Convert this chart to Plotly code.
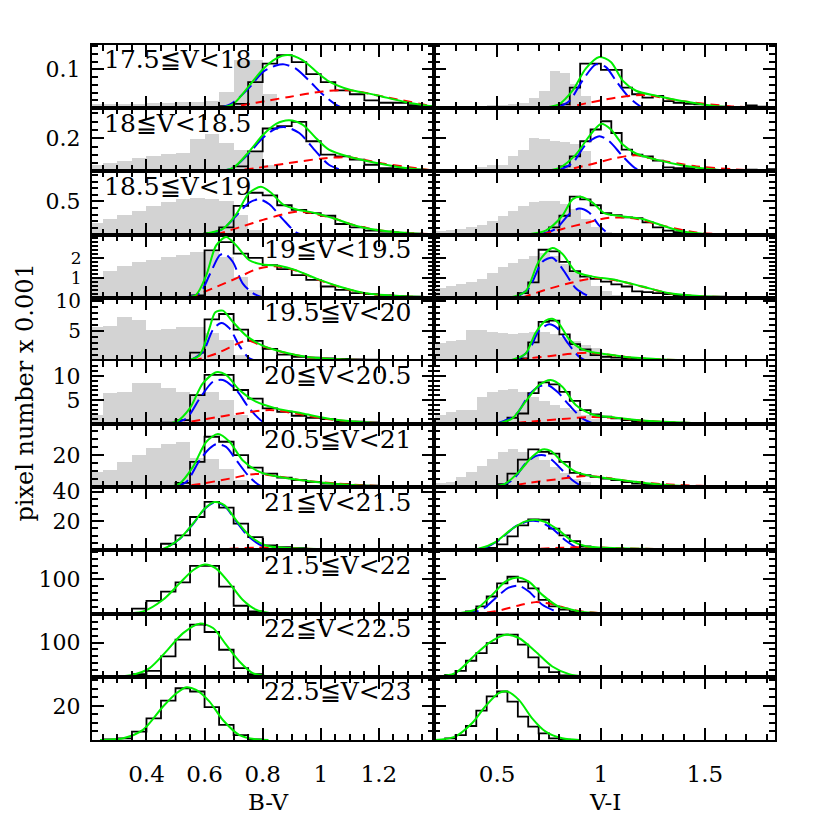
import plotly.graph_objects as go
from plotly.subplots import make_subplots

BIN_W = 0.05
GREY_START = 0.20
ROW_LABELS = ["17.5≦V<18", "18≦V<18.5", "18.5≦V<19", "19≦V<19.5", "19.5≦V<20",
              "20≦V<20.5", "20.5≦V<21", "21≦V<21.5", "21.5≦V<22", "22≦V<22.5", "22.5≦V<23"]
Y_MAX = [0.163, 0.382, 0.955, 3.2, 10.5, 13.1, 39.4, 43, 185, 185, 37]
Y_TICKS = [[0.1], [0.2], [0.5], [1, 2], [5, 10], [5, 10], [20], [20, 40], [100], [100], [20]]
Y_MINOR = [0.02, 0.05, 0.1, 0.2, 1, 1, 5, 5, 20, 20, 5]
BV_TICKS = [0.4, 0.6, 0.8, 1.0, 1.2]
BV_TEXT = ["0.4", "0.6", "0.8", "1", "1.2"]
VI_TICKS = [0.5, 1.0, 1.5]
VI_TEXT = ["0.5", "1", "1.5"]
BV_RANGE = [0.2125, 1.388]
VI_RANGE = [0.194, 1.838]
X_TITLES = ["B-V", "V-I"]
Y_TITLE = "pixel number x 0.001"

# ---------------- row 1 ----------------
BV1_GREY = [0.010, 0.010, 0.010, 0.010, 0.013, 0.013, 0.017, 0.017, 0.018, 0.042, 0.125, 0.125, 0.036]
BV1_BLACK_START = 0.65
BV1_BLACK = [0.005, 0.011, 0.067, 0.115, 0.137, 0.119, 0.088, 0.067, 0.046, 0.036, 0.020, 0.014, 0.014, 0.008, 0.005]
BV1_BLUE = [(0.651, 0.0), (0.697, 0.014), (0.754, 0.053), (0.80, 0.093), (0.846, 0.110), (0.874, 0.113),
            (0.914, 0.102), (0.96, 0.071), (1.006, 0.036), (1.05, 0.010), (1.074, 0.001)]
BV1_RED = [(0.674, 0.0), (0.777, 0.014), (0.891, 0.029), (1.006, 0.043), (1.097, 0.046), (1.234, 0.027), (1.39, 0.004)]
BV1_GREEN = [(0.64, 0.0), (0.697, 0.010), (0.754, 0.058), (0.80, 0.100), (0.846, 0.128), (0.886, 0.137),
             (0.937, 0.124), (0.994, 0.088), (1.028, 0.069), (1.097, 0.048), (1.188, 0.034), (1.291, 0.016), (1.394, 0.003)]

VI1_GREY = [0.005, 0.005, 0.005, 0.005, 0.005, 0.007, 0.007, 0.010, 0.014, 0.027, 0.045, 0.095, 0.090, 0.062, 0.032]
VI1_BLACK_START = 0.80
VI1_BLACK = [0.010, 0.053, 0.115, 0.115, 0.099, 0.099, 0.053, 0.036, 0.027, 0.032, 0.018, 0.014, 0.011, 0.010,
             0.004, 0.004, 0.002, 0.002, 0.007, 0.004, 0.002]
VI1_BLUE = [(0.782, 0.0), (0.847, 0.018), (0.911, 0.071), (0.976, 0.113), (1.024, 0.106), (1.072, 0.071),
            (1.137, 0.027), (1.193, 0.003)]
VI1_RED = [(0.814, 0.0), (0.943, 0.014), (1.072, 0.027), (1.20, 0.034), (1.395, 0.018), (1.621, 0.005), (1.84, 0.001)]
VI1_GREEN = [(0.70, 0.0), (0.798, 0.010), (0.863, 0.045), (0.927, 0.102), (0.992, 0.132), (1.048, 0.119),
             (1.105, 0.071), (1.169, 0.045), (1.266, 0.032), (1.395, 0.018), (1.556, 0.005), (1.84, 0.0)]

# ---------------- row 2 ----------------
BV2_GREY = [0.036, 0.050, 0.061, 0.077, 0.091, 0.101, 0.111, 0.192, 0.222, 0.172, 0.131, 0.121, 0.036]
BV2_BLACK_START = 0.70
BV2_BLACK = [0.030, 0.121, 0.259, 0.273, 0.299, 0.182, 0.101, 0.091, 0.071, 0.040, 0.020, 0.016, 0.010, 0.006]
BV2_BLUE = [(0.64, 0.0), (0.697, 0.020), (0.754, 0.111), (0.80, 0.202), (0.846, 0.259), (0.88, 0.267),
            (0.926, 0.232), (0.983, 0.121), (1.028, 0.040), (1.086, 0.0)]
BV2_RED = [(0.686, 0.0), (0.777, 0.020), (0.891, 0.050), (1.006, 0.078), (1.097, 0.085), (1.211, 0.048), (1.39, 0.004)]
BV2_GREEN = [(0.628, 0.0), (0.697, 0.020), (0.754, 0.121), (0.80, 0.218), (0.846, 0.287), (0.891, 0.309),
             (0.937, 0.283), (0.983, 0.202), (1.028, 0.131), (1.097, 0.088), (1.188, 0.052), (1.291, 0.020), (1.394, 0.004)]

VI2_GREY = [0.008, 0.008, 0.010, 0.012, 0.024, 0.036, 0.040, 0.091, 0.131, 0.202, 0.192, 0.182, 0.176, 0.162, 0.121, 0.010]
VI2_BLACK_START = 0.80
VI2_BLACK = [0.030, 0.091, 0.182, 0.253, 0.303, 0.232, 0.131, 0.101, 0.091, 0.065, 0.024, 0.020, 0.020, 0.010,
             0.010, 0.004, 0.004, 0.006, 0.010, 0.004, 0.014]
VI2_BLUE = [(0.782, 0.0), (0.863, 0.050), (0.927, 0.162), (0.992, 0.212), (1.04, 0.182), (1.105, 0.091),
            (1.169, 0.016), (1.218, 0.0)]
VI2_RED = [(0.798, 0.0), (0.943, 0.040), (1.072, 0.081), (1.169, 0.097), (1.266, 0.071), (1.46, 0.030), (1.70, 0.008), (1.84, 0.002)]
VI2_GREEN = [(0.685, 0.0), (0.798, 0.020), (0.879, 0.101), (0.943, 0.212), (1.0, 0.287), (1.048, 0.253),
             (1.105, 0.162), (1.169, 0.108), (1.266, 0.071), (1.395, 0.036), (1.556, 0.010), (1.84, 0.0)]

# ---------------- row 3 ----------------
BV3_GREY = [0.174, 0.234, 0.293, 0.358, 0.433, 0.492, 0.532, 0.547, 0.532, 0.507, 0.284, 0.060]
BV3_BLACK_START = 0.60
BV3_BLACK = [0.020, 0.109, 0.433, 0.632, 0.592, 0.443, 0.373, 0.323, 0.284, 0.159, 0.109, 0.060, 0.045, 0.025, 0.015, 0.010]
BV3_BLUE = [(0.606, 0.0), (0.663, 0.085), (0.709, 0.284), (0.754, 0.482), (0.789, 0.532), (0.823, 0.458),
            (0.869, 0.234), (0.914, 0.035), (0.94, 0.0)]
BV3_RED = [(0.64, 0.0), (0.72, 0.109), (0.811, 0.234), (0.914, 0.345), (0.96, 0.33), (1.052, 0.234),
           (1.12, 0.134), (1.234, 0.045), (1.39, 0.005)]
BV3_GREEN = [(0.583, 0.0), (0.663, 0.085), (0.709, 0.308), (0.754, 0.632), (0.794, 0.721), (0.829, 0.632),
             (0.869, 0.458), (0.914, 0.383), (0.983, 0.323), (1.052, 0.234), (1.12, 0.134), (1.234, 0.045), (1.348, 0.010)]

VI3_GREY = [0.045, 0.060, 0.075, 0.104, 0.144, 0.194, 0.274, 0.343, 0.433, 0.492, 0.507, 0.507, 0.458, 0.383,
            0.234, 0.109, 0.035]
VI3_BLACK_START = 0.75
VI3_BLACK = [0.109, 0.284, 0.572, 0.532, 0.443, 0.323, 0.293, 0.259, 0.249, 0.184, 0.109, 0.060, 0.035, 0.020,
             0.010, 0.010, 0.005, 0.005, 0.005, 0.005, 0.005]
VI3_BLUE = [(0.70, 0.0), (0.782, 0.085), (0.847, 0.308), (0.895, 0.393), (0.943, 0.333), (0.992, 0.134), (1.04, 0.0)]
VI3_RED = [(0.718, 0.0), (0.814, 0.085), (0.927, 0.174), (1.04, 0.255), (1.169, 0.240), (1.298, 0.134),
           (1.46, 0.030), (1.62, 0.0)]
VI3_GREEN = [(0.62, 0.0), (0.734, 0.060), (0.814, 0.284), (0.863, 0.532), (0.903, 0.572), (0.96, 0.482),
             (1.016, 0.323), (1.105, 0.274), (1.20, 0.234), (1.298, 0.134), (1.395, 0.045), (1.54, 0.0)]

# ---------------- row 4 ----------------
BV4_GREY = [0.98, 1.40, 1.65, 1.85, 1.95, 2.07, 2.18, 2.32, 2.35, 2.07, 1.07, 0.40, 0.07]
BV4_BLACK_START = 0.55
BV4_BLACK = [0.12, 2.40, 2.82, 2.23, 2.02, 1.65, 1.45, 1.15, 0.90, 0.57, 0.40, 0.23, 0.18, 0.12, 0.08, 0.05, 0.03]
BV4_BLUE = [(0.526, 0.0), (0.583, 0.23), (0.617, 1.15), (0.652, 2.15), (0.669, 2.23), (0.697, 1.82),
            (0.731, 0.73), (0.766, 0.23), (0.80, 0.0)]
BV4_RED = [(0.549, 0.0), (0.629, 0.48), (0.709, 0.98), (0.78, 1.45), (0.84, 1.60), (0.914, 1.38),
           (0.983, 0.96), (1.063, 0.55), (1.154, 0.22), (1.291, 0.06), (1.39, 0.02)]
BV4_GREEN = [(0.526, 0.0), (0.571, 0.15), (0.606, 1.15), (0.64, 2.65), (0.674, 3.07), (0.709, 2.65),
             (0.754, 1.90), (0.80, 1.68), (0.857, 1.62), (0.914, 1.40), (0.983, 0.98), (1.063, 0.57),
             (1.154, 0.23), (1.291, 0.07), (1.394, 0.02)]

VI4_GREY = [0.52, 0.62, 0.73, 0.82, 0.98, 1.28, 1.57, 1.78, 1.98, 2.15, 2.28, 2.15, 1.73, 1.32, 0.90, 0.62, 0.35, 0.18]
VI4_BLACK_START = 0.60
VI4_BLACK = [0.23, 0.78, 2.43, 2.35, 1.82, 1.35, 1.07, 0.95, 0.82, 0.68, 0.57, 0.32, 0.28, 0.23, 0.18, 0.12,
             0.08, 0.05, 0.05, 0.05, 0.03, 0.03, 0.02, 0.02, 0.02]
VI4_BLUE = [(0.589, 0.0), (0.653, 0.48), (0.718, 1.82), (0.766, 2.02), (0.814, 1.48), (0.879, 0.48),
            (0.943, 0.07), (0.97, 0.0)]
VI4_RED = [(0.62, 0.0), (0.734, 0.40), (0.847, 0.73), (0.976, 1.0), (1.072, 0.88), (1.2, 0.56),
           (1.33, 0.22), (1.492, 0.07), (1.84, 0.0)]
VI4_GREEN = [(0.556, 0.0), (0.637, 0.32), (0.70, 1.82), (0.766, 2.52), (0.814, 2.23), (0.879, 1.32),
             (0.96, 1.07), (1.072, 0.90), (1.2, 0.57), (1.33, 0.23), (1.492, 0.08), (1.75, 0.02)]

# ---------------- row 5 ----------------
BV5_GREY = [5.6, 5.8, 7.3, 6.9, 5.2, 5.3, 5.6, 5.7, 4.7, 3.5, 0.95, 0.42]
BV5_BLACK_START = 0.55
BV5_BLACK = [1.38, 6.9, 7.8, 5.2, 3.33, 2.0, 1.06, 0.69, 0.53, 0.42, 0.32, 0.26, 0.21, 0.16, 0.1, 0.1, 0.05]
BV5_BLUE = [(0.548, 0.0), (0.594, 1.48), (0.629, 5.2), (0.657, 6.3), (0.686, 5.4), (0.72, 2.5),
            (0.754, 0.42), (0.78, 0.0)]
BV5_RED = [(0.56, 0.0), (0.64, 1.2), (0.72, 3.0), (0.75, 3.4), (0.80, 2.45), (0.869, 1.45), (0.949, 0.67),
           (1.063, 0.25), (1.234, 0.05)]
BV5_GREEN = [(0.537, 0.0), (0.583, 0.95), (0.617, 5.45), (0.637, 8.1), (0.663, 8.35), (0.697, 6.5),
             (0.743, 4.2), (0.80, 2.54), (0.869, 1.48), (0.949, 0.69), (1.063, 0.26), (1.234, 0.05), (1.39, 0.0)]

VI5_GREY = [2.96, 3.33, 3.6, 5.2, 5.1, 4.9, 4.65, 4.55, 4.65, 4.9, 4.9, 4.55, 4.0, 3.33, 2.65, 2.27, 0.69]
VI5_BLACK_START = 0.60
VI5_BLACK = [0.42, 3.07, 6.5, 6.7, 4.4, 2.8, 1.9, 0.95, 0.69, 0.53, 0.42, 0.32, 0.21, 0.16, 0.1, 0.1, 0.1, 0.1]
VI5_BLUE = [(0.589, 0.0), (0.653, 1.75), (0.70, 4.9), (0.75, 6.1), (0.79, 5.45), (0.838, 3.07),
            (0.895, 0.69), (0.93, 0.0)]
VI5_RED = [(0.60, 0.0), (0.653, 0.42), (0.75, 0.79), (0.863, 1.2), (0.943, 1.35), (1.008, 1.15),
           (1.137, 0.58), (1.298, 0.23), (1.6, 0.04)]
VI5_GREEN = [(0.556, 0.0), (0.637, 1.2), (0.685, 4.65), (0.734, 6.7), (0.766, 7.0), (0.798, 6.2),
             (0.847, 3.6), (0.911, 1.9), (0.96, 1.45), (1.008, 1.2), (1.137, 0.6), (1.298, 0.25), (1.54, 0.05), (1.84, 0.0)]

# ---------------- row 6 ----------------
BV6_GREY = [1.87, 6.4, 6.6, 8.45, 8.45, 7.55, 6.7, 6.2, 6.7, 5.0, 1.87, 0.49]
BV6_BLACK_START = 0.45
BV6_BLACK = [0.28, 0.83, 6.0, 10.2, 10.2, 7.07, 5.3, 3.26, 2.56, 1.73, 1.32, 1.04, 0.62, 0.49, 0.35, 0.21, 0.14, 0.07, 0.07]
BV6_BLUE = [(0.48, 0.0), (0.537, 1.18), (0.583, 5.3), (0.629, 8.8), (0.663, 9.15), (0.709, 7.07),
            (0.754, 3.26), (0.80, 0.49), (0.823, 0.0)]
BV6_RED = [(0.503, 0.0), (0.606, 1.04), (0.72, 2.2), (0.823, 2.9), (0.914, 2.2), (1.028, 1.0),
           (1.177, 0.28), (1.39, 0.05)]
BV6_GREEN = [(0.445, 0.0), (0.503, 0.49), (0.549, 3.26), (0.594, 8.45), (0.64, 10.74), (0.674, 10.2),
             (0.72, 7.07), (0.777, 4.64), (0.846, 3.26), (0.937, 2.2), (1.052, 0.9), (1.177, 0.3), (1.39, 0.05)]

VI6_GREY = [2.0, 2.56, 2.9, 2.9, 5.7, 6.7, 7.07, 7.2, 6.7, 5.7, 4.8, 3.95, 3.26, 2.9, 1.87, 1.04, 0.49, 0.14]
VI6_BLACK_START = 0.50
VI6_BLACK = [0.14, 1.32, 2.2, 6.4, 8.66, 8.25, 6.7, 4.8, 2.9, 2.0, 1.52, 1.18, 0.83, 0.62, 0.49, 0.35, 0.28,
             0.21, 0.14, 0.14, 0.14, 0.14]
VI6_BLUE = [(0.492, 0.0), (0.589, 1.87), (0.653, 6.0), (0.70, 7.76), (0.742, 8.1), (0.79, 6.7),
            (0.847, 3.95), (0.911, 1.18), (0.97, 0.0)]
VI6_RED = [(0.524, 0.0), (0.653, 0.49), (0.814, 1.04), (0.943, 1.45), (1.04, 1.35), (1.2, 0.7),
           (1.46, 0.2), (1.84, 0.0)]
VI6_GREEN = [(0.49, 0.0), (0.573, 1.18), (0.637, 4.64), (0.70, 7.97), (0.758, 9.15), (0.814, 7.76),
             (0.879, 3.95), (0.96, 2.0), (1.072, 1.32), (1.234, 0.62), (1.46, 0.2), (1.84, 0.0)]

# ---------------- row 7 ----------------
BV7_GREY = [9.6, 10.6, 15.8, 20.0, 24.2, 26.9, 28.4, 17.9, 17.3, 11.1, 4.4, 1.25]
BV7_BLACK_START = 0.45
BV7_BLACK = [0.6, 2.7, 15.8, 31.5, 28.4, 20.0, 12.3, 8.55, 6.05, 4.4, 3.3, 2.3, 1.9, 1.46, 1.0, 0.8, 0.6, 0.4, 0.4]
BV7_BLUE = [(0.491, 0.0), (0.537, 3.3), (0.583, 16.9), (0.617, 24.2), (0.64, 26.9), (0.674, 25.2),
            (0.709, 16.9), (0.754, 6.5), (0.789, 1.25), (0.81, 0.0)]
BV7_RED = [(0.503, 0.0), (0.594, 2.3), (0.686, 5.4), (0.777, 8.3), (0.846, 7.0), (0.937, 4.3),
           (1.063, 2.2), (1.234, 0.6), (1.39, 0.2)]
BV7_GREEN = [(0.468, 0.0), (0.514, 2.3), (0.56, 12.7), (0.606, 28.4), (0.646, 33.2), (0.686, 28.4),
             (0.731, 16.9), (0.789, 9.6), (0.869, 6.05), (0.983, 3.3), (1.12, 1.25), (1.291, 0.42), (1.39, 0.2)]

VI7_GREY = [2.3, 3.3, 6.05, 9.6, 13.3, 17.3, 22.1, 23.6, 22.1, 19.0, 16.9, 12.7, 8.55, 5.4, 3.3, 1.25]
VI7_BLACK_START = 0.45
VI7_BLACK = [0.2, 1.9, 8.55, 17.3, 23.6, 22.1, 21.0, 15.8, 9.0, 7.5, 6.5, 5.4, 4.4, 3.3, 2.3, 1.9, 1.5, 1.0,
             0.8, 0.6, 0.4, 0.4, 0.4]
VI7_BLUE = [(0.492, 0.0), (0.573, 4.4), (0.637, 14.8), (0.685, 19.4), (0.726, 20.0), (0.766, 16.9),
            (0.814, 10.6), (0.863, 4.4), (0.911, 0.6), (0.94, 0.0)]
VI7_RED = [(0.524, 0.0), (0.653, 2.7), (0.814, 5.4), (0.927, 7.0), (1.008, 6.2), (1.137, 3.8),
           (1.33, 1.7), (1.62, 0.4), (1.84, 0.1)]
VI7_GREEN = [(0.46, 0.0), (0.54, 2.3), (0.605, 9.6), (0.669, 19.0), (0.718, 23.6), (0.758, 22.7),
             (0.814, 15.8), (0.879, 9.6), (0.976, 6.5), (1.105, 4.4), (1.266, 1.9), (1.46, 0.6), (1.84, 0.05)]

# ---------------- row 8 ----------------
BV8_BLACK_START = 0.30
BV8_BLACK = [0.45, 0.45, 1.1, 4.55, 10.2, 22.75, 33.0, 29.1, 18.2, 9.1, 3.4, 2.3, 1.6, 1.1, 0.9, 0.7,
             0.45, 0.45, 0.45, 0.3, 0.3]
BV8_BLUE = [(0.40, 0.0), (0.457, 1.0), (0.514, 7.8), (0.56, 18.0), (0.60, 28.2), (0.634, 32.6),
            (0.669, 30.2), (0.709, 19.8), (0.754, 9.0), (0.811, 1.8), (0.85, 0.0)]
BV8_RED = [(0.583, 0.0), (0.686, 1.1), (0.777, 1.9), (0.846, 1.8), (0.949, 1.1), (1.1, 0.4), (1.3, 0.1)]
BV8_GREEN = [(0.40, 0.0), (0.457, 1.1), (0.514, 8.0), (0.56, 18.2), (0.60, 28.4), (0.634, 33.0),
             (0.669, 30.7), (0.709, 20.5), (0.754, 10.2), (0.811, 3.4), (0.891, 1.6), (1.063, 0.7), (1.39, 0.2)]

VI8_BLACK_START = 0.30
VI8_BLACK = [0.1, 0.2, 1.1, 1.8, 4.1, 9.55, 17.1, 21.2, 20.9, 14.8, 10.2, 6.4, 2.7, 1.8, 1.4, 1.1, 1.1, 1.1,
             1.1, 0.7, 0.7, 0.7, 0.7, 0.45, 0.45, 0.45, 0.45]
VI8_BLUE = [(0.33, 0.0), (0.427, 1.1), (0.508, 6.8), (0.589, 16.4), (0.653, 20.0), (0.70, 19.8),
            (0.766, 14.8), (0.83, 6.8), (0.895, 1.1), (0.94, 0.0)]
VI8_RED = [(0.492, 0.0), (0.653, 0.9), (0.814, 1.8), (0.927, 2.3), (1.072, 1.6), (1.298, 0.9), (1.62, 0.2), (1.84, 0.05)]
VI8_GREEN = [(0.30, 0.0), (0.411, 1.1), (0.492, 5.7), (0.573, 14.8), (0.637, 19.8), (0.685, 20.9),
             (0.734, 19.3), (0.798, 13.65), (0.863, 6.4), (0.927, 2.8), (1.056, 1.7), (1.298, 0.9), (1.54, 0.3), (1.84, 0.05)]

# ---------------- row 9 ----------------
BV9_BLACK_START = 0.25
BV9_BLACK = [2.0, 2.0, 14.5, 37.6, 64.6, 91.5, 139.7, 139.7, 79.0, 23.1, 6.7, 2.0]
BV9_GREEN = [(0.297, 0.0), (0.389, 6.7), (0.457, 40.5), (0.514, 88.6), (0.56, 127.0), (0.60, 143.6),
             (0.64, 132.0), (0.686, 88.6), (0.731, 40.5), (0.777, 11.6), (0.823, 1.9), (0.87, 0.0)]

VI9_BLACK_START = 0.20
VI9_BLACK = [1.0, 2.0, 2.0, 6.7, 21.2, 50.1, 88.6, 108.0, 93.5, 74.2, 40.5, 21.2, 11.6, 6.7, 2.0, 1.0, 1.0, 1.0]
VI9_BLUE = [(0.33, 0.0), (0.427, 11.6), (0.492, 45.3), (0.556, 76.1), (0.605, 81.9), (0.653, 64.6),
            (0.718, 26.0), (0.782, 6.7), (0.81, 0.0)]
VI9_RED = [(0.379, 0.0), (0.492, 6.7), (0.605, 24.1), (0.685, 33.7), (0.766, 28.0), (0.847, 13.0),
           (0.943, 4.0), (1.04, 1.0), (1.2, 0.0)]
VI9_GREEN = [(0.298, 0.0), (0.395, 11.6), (0.476, 54.9), (0.54, 93.5), (0.597, 106.0), (0.653, 93.5),
             (0.718, 54.9), (0.798, 20.0), (0.847, 14.0), (0.895, 6.0), (1.0, 1.0), (1.1, 0.0)]

# ---------------- row 10 ----------------
BV10_BLACK_START = 0.30
BV10_BLACK = [2.9, 7.8, 17.6, 59.7, 108.7, 152.7, 131.2, 79.3, 25.5, 7.8, 2.9]
BV10_GREEN = [(0.30, 0.0), (0.354, 5.9), (0.411, 25.5), (0.468, 74.4), (0.526, 128.0), (0.583, 155.7),
              (0.629, 143.0), (0.674, 94.0), (0.72, 45.0), (0.766, 10.8), (0.823, 1.0), (0.87, 0.0)]

VI10_BLACK_START = 0.20
VI10_BLACK = [2.0, 5.9, 17.6, 47.0, 69.5, 98.9, 123.4, 123.4, 94.0, 56.8, 27.4, 13.7, 3.9, 1.0]
VI10_GREEN = [(0.20, 0.0), (0.298, 10.8), (0.395, 64.6), (0.46, 98.9), (0.54, 123.4), (0.605, 113.6),
              (0.685, 74.4), (0.766, 30.3), (0.847, 7.8), (0.927, 1.0), (1.0, 0.0)]

# ---------------- row 11 ----------------
BV11_BLACK_START = 0.25
BV11_BLACK = [0.4, 1.0, 4.9, 12.7, 23.1, 30.3, 28.4, 19.2, 8.8, 2.9, 0.4]
BV11_GREEN = [(0.24, 0.0), (0.32, 1.0), (0.388, 5.9), (0.457, 19.6), (0.503, 27.4), (0.537, 30.9),
              (0.571, 29.4), (0.617, 22.5), (0.663, 11.7), (0.72, 2.9), (0.777, 0.4), (0.82, 0.0)]

VI11_BLACK_START = 0.25
VI11_BLACK = [1.0, 2.9, 8.2, 17.2, 25.5, 28.4, 22.5, 13.7, 7.8, 3.9, 1.0, 0.2]
VI11_GREEN = [(0.20, 0.0), (0.298, 2.0), (0.379, 9.8), (0.443, 19.6), (0.508, 27.4), (0.548, 28.4),
              (0.605, 23.5), (0.669, 12.7), (0.734, 4.9), (0.814, 1.0), (0.895, 0.0)]

# ---------------- table of panels ----------------
PANELS = {
    (1, 1): dict(grey=BV1_GREY, black=(BV1_BLACK_START, BV1_BLACK), blue=BV1_BLUE, red=BV1_RED, green=BV1_GREEN),
    (1, 2): dict(grey=VI1_GREY, black=(VI1_BLACK_START, VI1_BLACK), blue=VI1_BLUE, red=VI1_RED, green=VI1_GREEN),
    (2, 1): dict(grey=BV2_GREY, black=(BV2_BLACK_START, BV2_BLACK), blue=BV2_BLUE, red=BV2_RED, green=BV2_GREEN),
    (2, 2): dict(grey=VI2_GREY, black=(VI2_BLACK_START, VI2_BLACK), blue=VI2_BLUE, red=VI2_RED, green=VI2_GREEN),
    (3, 1): dict(grey=BV3_GREY, black=(BV3_BLACK_START, BV3_BLACK), blue=BV3_BLUE, red=BV3_RED, green=BV3_GREEN),
    (3, 2): dict(grey=VI3_GREY, black=(VI3_BLACK_START, VI3_BLACK), blue=VI3_BLUE, red=VI3_RED, green=VI3_GREEN),
    (4, 1): dict(grey=BV4_GREY, black=(BV4_BLACK_START, BV4_BLACK), blue=BV4_BLUE, red=BV4_RED, green=BV4_GREEN),
    (4, 2): dict(grey=VI4_GREY, black=(VI4_BLACK_START, VI4_BLACK), blue=VI4_BLUE, red=VI4_RED, green=VI4_GREEN),
    (5, 1): dict(grey=BV5_GREY, black=(BV5_BLACK_START, BV5_BLACK), blue=BV5_BLUE, red=BV5_RED, green=BV5_GREEN),
    (5, 2): dict(grey=VI5_GREY, black=(VI5_BLACK_START, VI5_BLACK), blue=VI5_BLUE, red=VI5_RED, green=VI5_GREEN),
    (6, 1): dict(grey=BV6_GREY, black=(BV6_BLACK_START, BV6_BLACK), blue=BV6_BLUE, red=BV6_RED, green=BV6_GREEN),
    (6, 2): dict(grey=VI6_GREY, black=(VI6_BLACK_START, VI6_BLACK), blue=VI6_BLUE, red=VI6_RED, green=VI6_GREEN),
    (7, 1): dict(grey=BV7_GREY, black=(BV7_BLACK_START, BV7_BLACK), blue=BV7_BLUE, red=BV7_RED, green=BV7_GREEN),
    (7, 2): dict(grey=VI7_GREY, black=(VI7_BLACK_START, VI7_BLACK), blue=VI7_BLUE, red=VI7_RED, green=VI7_GREEN),
    (8, 1): dict(grey=None, black=(BV8_BLACK_START, BV8_BLACK), blue=BV8_BLUE, red=BV8_RED, green=BV8_GREEN),
    (8, 2): dict(grey=None, black=(VI8_BLACK_START, VI8_BLACK), blue=VI8_BLUE, red=VI8_RED, green=VI8_GREEN),
    (9, 1): dict(grey=None, black=(BV9_BLACK_START, BV9_BLACK), blue=None, red=None, green=BV9_GREEN),
    (9, 2): dict(grey=None, black=(VI9_BLACK_START, VI9_BLACK), blue=VI9_BLUE, red=VI9_RED, green=VI9_GREEN),
    (10, 1): dict(grey=None, black=(BV10_BLACK_START, BV10_BLACK), blue=None, red=None, green=BV10_GREEN),
    (10, 2): dict(grey=None, black=(VI10_BLACK_START, VI10_BLACK), blue=None, red=None, green=VI10_GREEN),
    (11, 1): dict(grey=None, black=(BV11_BLACK_START, BV11_BLACK), blue=None, red=None, green=BV11_GREEN),
    (11, 2): dict(grey=None, black=(VI11_BLACK_START, VI11_BLACK), blue=None, red=None, green=VI11_GREEN),
}

FONT = "DejaVu Serif"
NROWS = 11
# the page adds an 8 px body margin, so the figure is 822 px and margins are shifted by 8 px
W, H = 822, 822
ML, MR, MT, MB = 84, 55, 37, 90
# y tick-label font size per row (rows 4 and 5 have labels close together)
Y_LABEL_SIZE = [22, 22, 22, 17, 20, 22, 22, 22, 22, 22, 22]

fig = make_subplots(rows=NROWS, cols=2, horizontal_spacing=0, vertical_spacing=0)


def step_xy(start, heights):
    edges = [start + i * BIN_W for i in range(len(heights) + 1)]
    xs = [edges[0]] + edges[:-1] + [edges[-1]]
    ys = [0.0] + list(heights) + [0.0]
    return xs, ys


def curve(points, color, dash, width=2):
    return go.Scatter(x=[p[0] for p in points], y=[p[1] for p in points], mode="lines",
                      line=dict(color=color, width=width, dash=dash, shape="spline", smoothing=0.8),
                      hoverinfo="skip", showlegend=False)


for (r, c), p in PANELS.items():
    if p["grey"] is not None:
        g = p["grey"]
        fig.add_trace(go.Bar(x=[GREY_START + (i + 0.5) * BIN_W for i in range(len(g))], y=g,
                             width=BIN_W, marker=dict(color="#d3d3d3", line=dict(width=0)),
                             showlegend=False, hoverinfo="skip"), row=r, col=c)
    bx, by = step_xy(*p["black"])
    fig.add_trace(go.Scatter(x=bx, y=by, mode="lines", line=dict(color="black", width=1.8, shape="hv"),
                             showlegend=False, hoverinfo="skip"), row=r, col=c)
    if p["blue"] is not None:
        fig.add_trace(curve(p["blue"], "#0000ff", "17px,6px"), row=r, col=c)
    if p["red"] is not None:
        fig.add_trace(curve(p["red"], "#ff0000", "9px,6px"), row=r, col=c)
    fig.add_trace(curve(p["green"], "#00ee00", "solid"), row=r, col=c)

xtickfont = dict(family=FONT, size=23, color="black")
for r in range(1, NROWS + 1):
    for c in (1, 2):
        left = c == 1
        fig.update_xaxes(
            range=BV_RANGE if left else VI_RANGE,
            tickmode="array", tickvals=BV_TICKS if left else VI_TICKS,
            ticktext=BV_TEXT if left else VI_TEXT,
            showticklabels=(r == NROWS), tickfont=xtickfont, ticklabelstandoff=12,
            ticks="inside", ticklen=12, tickwidth=1.5, tickcolor="black",
            minor=dict(ticks="inside", ticklen=6, tickwidth=1.5, tickcolor="black",
                       dtick=0.05 if left else 0.1, tick0=0, showgrid=False),
            showline=True, linecolor="black", linewidth=2, mirror="ticks",
            showgrid=False, zeroline=False, row=r, col=c)
        fig.update_yaxes(
            range=[0, Y_MAX[r - 1]], tickmode="array", tickvals=Y_TICKS[r - 1],
            ticktext=[("%g" % v) for v in Y_TICKS[r - 1]],
            showticklabels=left,
            tickfont=dict(family=FONT, size=Y_LABEL_SIZE[r - 1], color="black"),
            ticklabelstandoff=5,
            ticks="inside", ticklen=12, tickwidth=1.5, tickcolor="black",
            minor=dict(ticks="inside", ticklen=6, tickwidth=1.5, tickcolor="black",
                       dtick=Y_MINOR[r - 1], tick0=0, showgrid=False),
            showline=True, linecolor="black", linewidth=2, mirror="ticks",
            showgrid=False, zeroline=False, row=r, col=c)

plot_w = W - ML - MR
plot_h = H - MT - MB
lab_font = dict(family=FONT, size=25, color="black")
annotations = []
for i, lab in enumerate(ROW_LABELS):
    top = 1 - i / NROWS
    y = top - 15 / plot_h
    if i < 3:
        annotations.append(dict(text=lab, x=10 / plot_w, y=y, xref="paper", yref="paper",
                                xanchor="left", yanchor="middle", showarrow=False, font=lab_font))
    else:
        annotations.append(dict(text=lab, x=0.5 - 21 / plot_w, y=y, xref="paper", yref="paper",
                                xanchor="right", yanchor="middle", showarrow=False, font=lab_font))

title_font = dict(family=FONT, size=23, color="black")
annotations.append(dict(text=X_TITLES[0], x=0.258, y=-62 / plot_h, xref="paper", yref="paper",
                        xanchor="center", yanchor="middle", showarrow=False, font=title_font))
annotations.append(dict(text=X_TITLES[1], x=0.751, y=-62 / plot_h, xref="paper", yref="paper",
                        xanchor="center", yanchor="middle", showarrow=False, font=title_font))
annotations.append(dict(text=Y_TITLE, x=-68 / plot_w, y=0.5, xref="paper", yref="paper",
                        xanchor="center", yanchor="middle", textangle=-90, showarrow=False,
                        font=dict(family=FONT, size=24, color="black")))

fig.update_layout(width=W, height=H, margin=dict(l=ML, r=MR, t=MT, b=MB),
                  paper_bgcolor="white", plot_bgcolor="white", barmode="overlay", bargap=0,
                  showlegend=False, annotations=annotations,
                  font=dict(family=FONT, color="black"))

fig.write_html("out.html")
